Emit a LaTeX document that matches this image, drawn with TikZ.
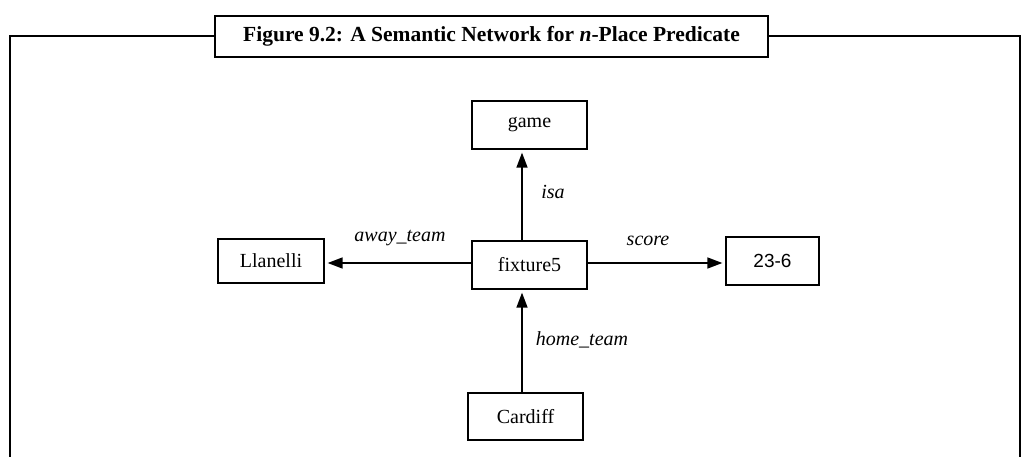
\documentclass[tikz,border=0pt]{standalone}
\usepackage{fontspec}
\setmainfont{Liberation Serif}
\newfontfamily\labelsans{Liberation Sans}
\usetikzlibrary{arrows.meta}
\begin{document}
\begin{tikzpicture}[x=1pt,y=-1pt,
  framestroke/.style={line width=2.4pt},
  entity/.style={draw, line width=1.3pt, minimum width=115pt, minimum height=48pt,
    inner sep=0pt, font=\fontsize{20}{22}\selectfont},
  relation/.style={line width=1.5pt, -{Triangle[length=15pt,width=11pt]}, shorten >=3pt},
  rellabel/.style={font=\fontsize{20}{22}\selectfont\itshape}]
  \useasboundingbox (0,0) rectangle (1030,457);

  % outer frame, open at the bottom
  \draw[framestroke] (10,457) -- (10,36) -- (1020,36) -- (1020,457);
  % caption box
  \node[draw, framestroke, fill=white, minimum width=553pt, minimum height=41pt,
    inner sep=0pt, font=\fontsize{21.5}{24}\selectfont\bfseries] (caption) at (491.5,36.5)
    {Figure 9.2: A Semantic Network for \textit{n}-Place Predicate};

  % entities
  \node[entity] (game) at (529.5,125) {game};
  \node[entity] (fixture) at (529.5,265) {fixture5};
  \node[entity, minimum width=106pt, minimum height=44pt] (llanelli) at (271,261) {Llanelli};
  \node[entity, minimum width=93pt, font=\labelsans\fontsize{19}{21}\selectfont] (score) at (772.5,261) {23-6};
  \node[entity, minimum height=47pt] (cardiff) at (525.5,416.5) {Cardiff};

  % guide coordinates for the connector lines
  \coordinate (vx) at (522,0);
  \coordinate (hy) at (0,263);

  % relations
  \draw[relation] (fixture.north -| vx) -- (game.south -| vx);
  \draw[relation] (fixture.west |- hy) -- (llanelli.east |- hy);
  \draw[relation] (fixture.east |- hy) -- (score.west |- hy);
  \draw[relation] (cardiff.north -| vx) -- (fixture.south -| vx);

  % relation labels
  \node[rellabel] (isalabel) at (553,192) {isa};
  \node[rellabel] (awaylabel) at (400,238) {away\_team};
  \node[rellabel] (scorelabel) at (648,241) {score};
  \node[rellabel] (homelabel) at (582,340) {home\_team};
\end{tikzpicture}
\end{document}
